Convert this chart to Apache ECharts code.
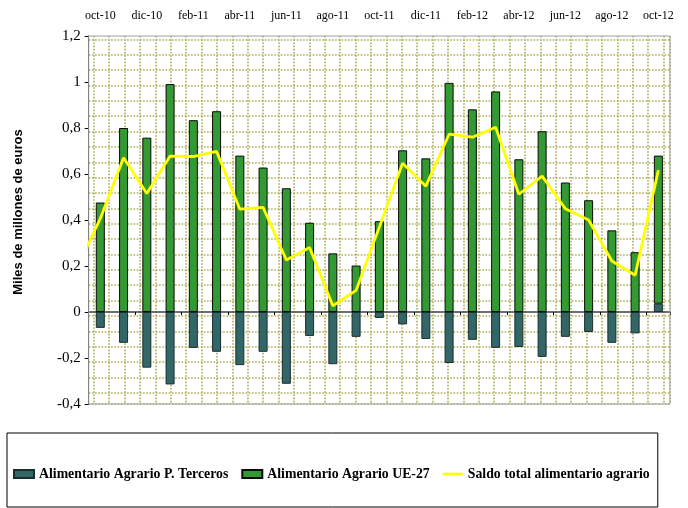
<!DOCTYPE html>
<html>
<head>
<meta charset="utf-8">
<script src="https://cdn.jsdelivr.net/npm/echarts@6/dist/echarts.min.js"></script>
<style>
  html, body { margin: 0; padding: 0; background: #ffffff; }
  #chart { width: 688px; height: 508px; }
</style>
</head>
<body>
<div id="chart"></div>
<script>
// meses oct-10 .. oct-12
const meses = ['oct-10', 'nov-10', 'dic-10', 'ene-11', 'feb-11', 'mar-11', 'abr-11', 'may-11',
  'jun-11', 'jul-11', 'ago-11', 'sep-11', 'oct-11', 'nov-11', 'dic-11', 'ene-12', 'feb-12',
  'mar-12', 'abr-12', 'may-12', 'jun-12', 'jul-12', 'ago-12', 'sep-12', 'oct-12']

// Alimentario Agrario P. Terceros (miles de millones de euros)
const terceros = [-0.069, -0.134, -0.242, -0.315, -0.156, -0.173, -0.231, -0.173, -0.312, -0.104,
  -0.227, -0.108, -0.026, -0.054, -0.117, -0.222, -0.121, -0.156, -0.152, -0.195, -0.108, -0.087,
  -0.134, -0.093, 0.036]

// Alimentario Agrario UE-27
const ue27 = [0.476, 0.800, 0.758, 0.991, 0.834, 0.873, 0.680, 0.628, 0.538, 0.388, 0.255, 0.202,
  0.395, 0.703, 0.668, 0.996, 0.881, 0.959, 0.664, 0.786, 0.563, 0.486, 0.355, 0.260, 0.644]

// Saldo total alimentario agrario (el primer valor es sep-10, cortado por el borde)
const saldo = [0.19, 0.407, 0.671, 0.515, 0.678, 0.676, 0.698, 0.447, 0.455, 0.226, 0.280, 0.027,
  0.094, 0.369, 0.647, 0.547, 0.773, 0.760, 0.803, 0.512, 0.591, 0.449, 0.400, 0.222, 0.160, 0.617]

const chart = echarts.init(document.getElementById('chart'))

const serif = 'Liberation Serif'
const gridColor = '#adad55'
const dots = { color: gridColor, width: 1.6, type: [1.6, 1.6] }

const option = {
  backgroundColor: '#ffffff',
  animation: false,
  grid: [
    { left: 88.7, right: 18, top: 36, bottom: 104, show: true, borderColor: '#a0a0a0', borderWidth: 1, z: 1 },
    // trama de puntos: lineas verticales
    { left: 93.8, right: 18, top: 36, bottom: 104 },
    // trama de puntos: lineas horizontales
    { left: 88.7, right: 18, top: 39.3, bottom: 104 }
  ],
  legend: {
    left: 7,
    top: 433,
    padding: [34, 8, 26, 6],
    borderColor: '#000000',
    borderWidth: 1,
    itemWidth: 20,
    itemHeight: 8,
    itemGap: 13,
    textStyle: { fontFamily: serif, fontWeight: 'bold', fontSize: 13.8, color: '#000000' },
    data: [
      { name: 'Alimentario Agrario P. Terceros', icon: 'rect' },
      { name: 'Alimentario Agrario UE-27', icon: 'rect' },
      { name: 'Saldo total alimentario agrario', icon: 'path://M0,0 L23,0 L23,3 L0,3 Z' }
    ]
  },
  xAxis: [
    {
      // eje en el cero con marcas
      type: 'category',
      gridIndex: 0,
      data: meses,
      boundaryGap: true,
      axisLine: { onZero: true, lineStyle: { color: '#404040', width: 1.5 } },
      axisTick: { show: true, interval: 1, length: 3, lineStyle: { color: '#000000' } },
      axisLabel: { show: false },
      splitLine: { show: false }
    },
    {
      // etiquetas de meses arriba
      type: 'category',
      gridIndex: 0,
      position: 'top',
      data: meses,
      boundaryGap: true,
      axisLine: { show: false, onZero: false },
      axisTick: { show: false },
      axisLabel: { interval: 1, margin: 14, fontFamily: serif, fontSize: 12, color: '#000000' },
      splitLine: { show: false }
    },
    {
      // eje auxiliar para la linea de saldo
      type: 'value',
      gridIndex: 0,
      min: -0.5,
      max: 24.5,
      show: false
    },
    {
      type: 'value',
      gridIndex: 1,
      min: 0,
      max: (670 - 93.8) / 15.4,
      interval: 1,
      axisLine: { show: false },
      axisTick: { show: false },
      axisLabel: { show: false },
      splitLine: { show: true, lineStyle: dots }
    },
    {
      type: 'value',
      gridIndex: 2,
      show: false
    }
  ],
  yAxis: [
    {
      type: 'value',
      gridIndex: 0,
      min: -0.4,
      max: 1.2,
      interval: 0.2,
      name: 'Miles de millones de euros',
      nameLocation: 'middle',
      nameGap: 64,
      nameTextStyle: {
        fontFamily: 'Liberation Sans', fontWeight: 'bold', fontSize: 13, color: '#000000',
        padding: [0, 0, 0, 16]
      },
      axisLine: { show: true, onZero: false, lineStyle: { color: '#000000', width: 1 } },
      axisTick: { show: true, length: 4, lineStyle: { color: '#000000' } },
      axisLabel: {
        margin: 8,
        fontFamily: serif,
        fontSize: 15,
        color: '#000000',
        formatter: v => String(Math.round(v * 10) / 10).replace('.', ',')
      },
      splitLine: { show: false }
    },
    {
      type: 'value',
      gridIndex: 1,
      show: false
    },
    {
      type: 'value',
      gridIndex: 2,
      inverse: true,
      min: 0,
      max: (404 - 39.3) / 15.37,
      interval: 1,
      axisLine: { show: false },
      axisTick: { show: false },
      axisLabel: { show: false },
      splitLine: { show: true, lineStyle: dots }
    }
  ],
  series: [
    {
      name: 'Alimentario Agrario P. Terceros',
      type: 'bar',
      xAxisIndex: 0,
      yAxisIndex: 0,
      stack: 'total',
      barWidth: 9,
      data: terceros,
      itemStyle: { color: '#336666', borderColor: '#1a2e2e', borderWidth: 1 },
      z: 3
    },
    {
      name: 'Alimentario Agrario UE-27',
      type: 'bar',
      xAxisIndex: 0,
      yAxisIndex: 0,
      stack: 'total',
      barWidth: 9,
      data: ue27,
      itemStyle: { color: '#339933', borderColor: '#0a0a0a', borderWidth: 1 },
      z: 3
    },
    {
      name: 'Saldo total alimentario agrario',
      type: 'line',
      xAxisIndex: 2,
      yAxisIndex: 0,
      data: saldo.map((v, i) => [i - 1, v]),
      clip: true,
      symbol: 'none',
      lineStyle: { color: '#ffff00', width: 2.8 },
      itemStyle: { color: '#ffff00' },
      z: 4
    }
  ]
}

chart.setOption(option)
</script>
</body>
</html>
